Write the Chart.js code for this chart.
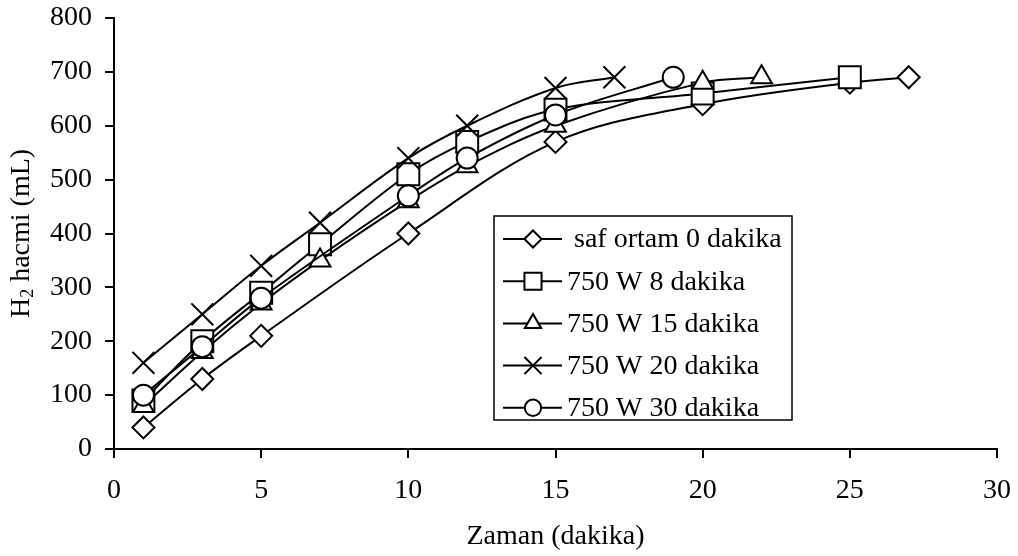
<!doctype html>
<html lang="tr">

<head>
    <meta charset="utf-8">
    <title>H2 hacmi - Zaman</title>
    <script src="https://cdn.jsdelivr.net/npm/chart.js"></script>
    <style>
        html, body { margin: 0; padding: 0; background: #fff; }
        .chart-box { width: 1018px; height: 556px; }
    </style>
</head>

<body>
    <div class="chart-box">
        <canvas id="h2Chart"></canvas>
    </div>

    <script>
        // Ölçüm verileri: zaman (dakika) ve H2 hacmi (mL)
        const seriesNames = [' saf ortam 0 dakika', '750 W 8 dakika', '750 W 15 dakika', '750 W 20 dakika', '750 W 30 dakika'];

        const zamanSaf = [1, 3, 5, 10, 15, 20, 25, 27];
        const hacimSaf = [40, 130, 210, 400, 570, 640, 680, 690];

        const zaman8 = [1, 3, 5, 7, 10, 12, 15, 20, 25];
        const hacim8 = [90, 200, 290, 380, 510, 570, 630, 660, 690];

        const zaman15 = [1, 3, 5, 7, 10, 12, 15, 20, 22];
        const hacim15 = [80, 180, 270, 350, 460, 525, 600, 680, 690];

        const zaman20 = [1, 3, 5, 7, 10, 12, 15, 17];
        const hacim20 = [160, 250, 340, 420, 540, 600, 670, 690];

        const zaman30 = [1, 3, 5, 10, 12, 15, 19];
        const hacim30 = [100, 190, 280, 470, 540, 620, 690];

        const xTicks = [0, 5, 10, 15, 20, 25, 30];
        const yTicks = [0, 100, 200, 300, 400, 500, 600, 700, 800];

        const FONT = '"Liberation Serif", "Times New Roman", serif';

        const toPoints = (xs, ys) => xs.map((x, i) => ({ x: x, y: ys[i] }));

        const markerStyles = [
            { style: 'rectRot', radius: 11 },
            { style: 'rect', radius: 15.5 },
            { style: 'triangle', radius: 12 },
            { style: 'crossRot', radius: 15.5 },
            { style: 'circle', radius: 10.5 }
        ];

        const seriesData = [
            toPoints(zamanSaf, hacimSaf),
            toPoints(zaman8, hacim8),
            toPoints(zaman15, hacim15),
            toPoints(zaman20, hacim20),
            toPoints(zaman30, hacim30)
        ];

        const datasets = seriesData.map((pts, i) => ({
            label: seriesNames[i],
            data: pts,
            borderColor: '#000',
            borderWidth: 2,
            backgroundColor: '#fff',
            pointStyle: markerStyles[i].style,
            pointRadius: markerStyles[i].radius,
            pointBorderWidth: 2,
            pointBackgroundColor: '#fff',
            pointBorderColor: '#000',
            tension: 0.35,
            clip: false,
            order: seriesNames.length - i
        }));

        // eksen kutusunu sabitle, etiket taşması için ekstra boşluk bırakma
        function fixBox(size, horizontal) {
            return (scale) => {
                if (horizontal) scale.height = size; else scale.width = size;
                scale.paddingTop = 0;
                scale.paddingBottom = 0;
                scale.paddingLeft = 0;
                scale.paddingRight = 0;
            };
        }

        // Y ekseni başlığı (H2 alt simgeli)
        const yTitlePlugin = {
            id: 'yTitle',
            afterDraw(chart) {
                const ctx = chart.ctx;
                const area = chart.chartArea;
                const big = '28px ' + FONT;
                const small = '18px ' + FONT;
                ctx.save();
                ctx.font = big;
                const wH = ctx.measureText('H').width;
                const wRest = ctx.measureText(' hacmi (mL)').width;
                ctx.font = small;
                const w2 = ctx.measureText('2').width;
                const total = wH + w2 + wRest;
                ctx.translate(22, (area.top + area.bottom) / 2);
                ctx.rotate(-Math.PI / 2);
                ctx.fillStyle = '#000';
                ctx.textBaseline = 'middle';
                ctx.textAlign = 'left';
                let x = -total / 2;
                ctx.font = big;
                ctx.fillText('H', x, 0);
                x += wH;
                ctx.font = small;
                ctx.fillText('2', x, 6);
                x += w2;
                ctx.font = big;
                ctx.fillText(' hacmi (mL)', x, 0);
                ctx.restore();
            }
        };

        // Grafik içindeki çerçeveli gösterge
        const boxLegendPlugin = {
            id: 'boxLegend',
            afterDraw(chart) {
                const ctx = chart.ctx;
                const left = 494, top = 216, right = 792, bottom = 420;
                const rowStart = 239, rowGap = 42.2;
                ctx.save();
                ctx.fillStyle = '#fff';
                ctx.fillRect(left, top, right - left, bottom - top);
                ctx.strokeStyle = '#000';
                ctx.lineWidth = 1.5;
                ctx.strokeRect(left, top, right - left, bottom - top);
                chart.data.datasets.forEach((ds, i) => {
                    const y = rowStart + i * rowGap;
                    ctx.strokeStyle = '#000';
                    ctx.lineWidth = 2;
                    ctx.beginPath();
                    ctx.moveTo(503, y);
                    ctx.lineTo(562, y);
                    ctx.stroke();
                    ctx.fillStyle = '#fff';
                    ctx.lineWidth = 2;
                    Chart.helpers.drawPoint(ctx, {
                        pointStyle: ds.pointStyle,
                        radius: ds.pointRadius * 0.78,
                        rotation: 0,
                        borderWidth: 2
                    }, 533, y);
                    ctx.fillStyle = '#000';
                    ctx.font = '28px ' + FONT;
                    ctx.textBaseline = 'middle';
                    ctx.textAlign = 'left';
                    ctx.fillText(ds.label, 567, y + 1);
                });
                ctx.restore();
            }
        };

        new Chart(document.getElementById('h2Chart').getContext('2d'), {
            type: 'line',
            data: { datasets: datasets },
            options: {
                responsive: true,
                maintainAspectRatio: false,
                animation: false,
                layout: { padding: { left: 0, right: 21, top: 18, bottom: 0 } },
                plugins: {
                    legend: { display: false },
                    tooltip: { enabled: false }
                },
                scales: {
                    x: {
                        type: 'linear',
                        min: 0,
                        max: 30,
                        afterFit: fixBox(107, true),
                        afterBuildTicks: (scale) => { scale.ticks = xTicks.map(v => ({ value: v })); },
                        ticks: {
                            color: '#000',
                            padding: 16,
                            maxRotation: 0,
                            font: { family: FONT, size: 28 }
                        },
                        grid: {
                            drawOnChartArea: false,
                            color: '#000',
                            lineWidth: 2,
                            tickLength: 9
                        },
                        border: { display: true, color: '#000', width: 2 },
                        title: {
                            display: true,
                            text: 'Zaman (dakika)',
                            color: '#000',
                            padding: { top: 0, bottom: 3 },
                            font: { family: FONT, size: 28 }
                        }
                    },
                    y: {
                        min: 0,
                        max: 800,
                        afterFit: fixBox(114, false),
                        afterBuildTicks: (scale) => { scale.ticks = yTicks.map(v => ({ value: v })); },
                        ticks: {
                            color: '#000',
                            padding: 13,
                            font: { family: FONT, size: 28 }
                        },
                        grid: {
                            drawOnChartArea: false,
                            color: '#000',
                            lineWidth: 2,
                            tickLength: 9
                        },
                        border: { display: true, color: '#000', width: 2 }
                    }
                }
            },
            plugins: [yTitlePlugin, boxLegendPlugin]
        });
    </script>
</body>

</html>
